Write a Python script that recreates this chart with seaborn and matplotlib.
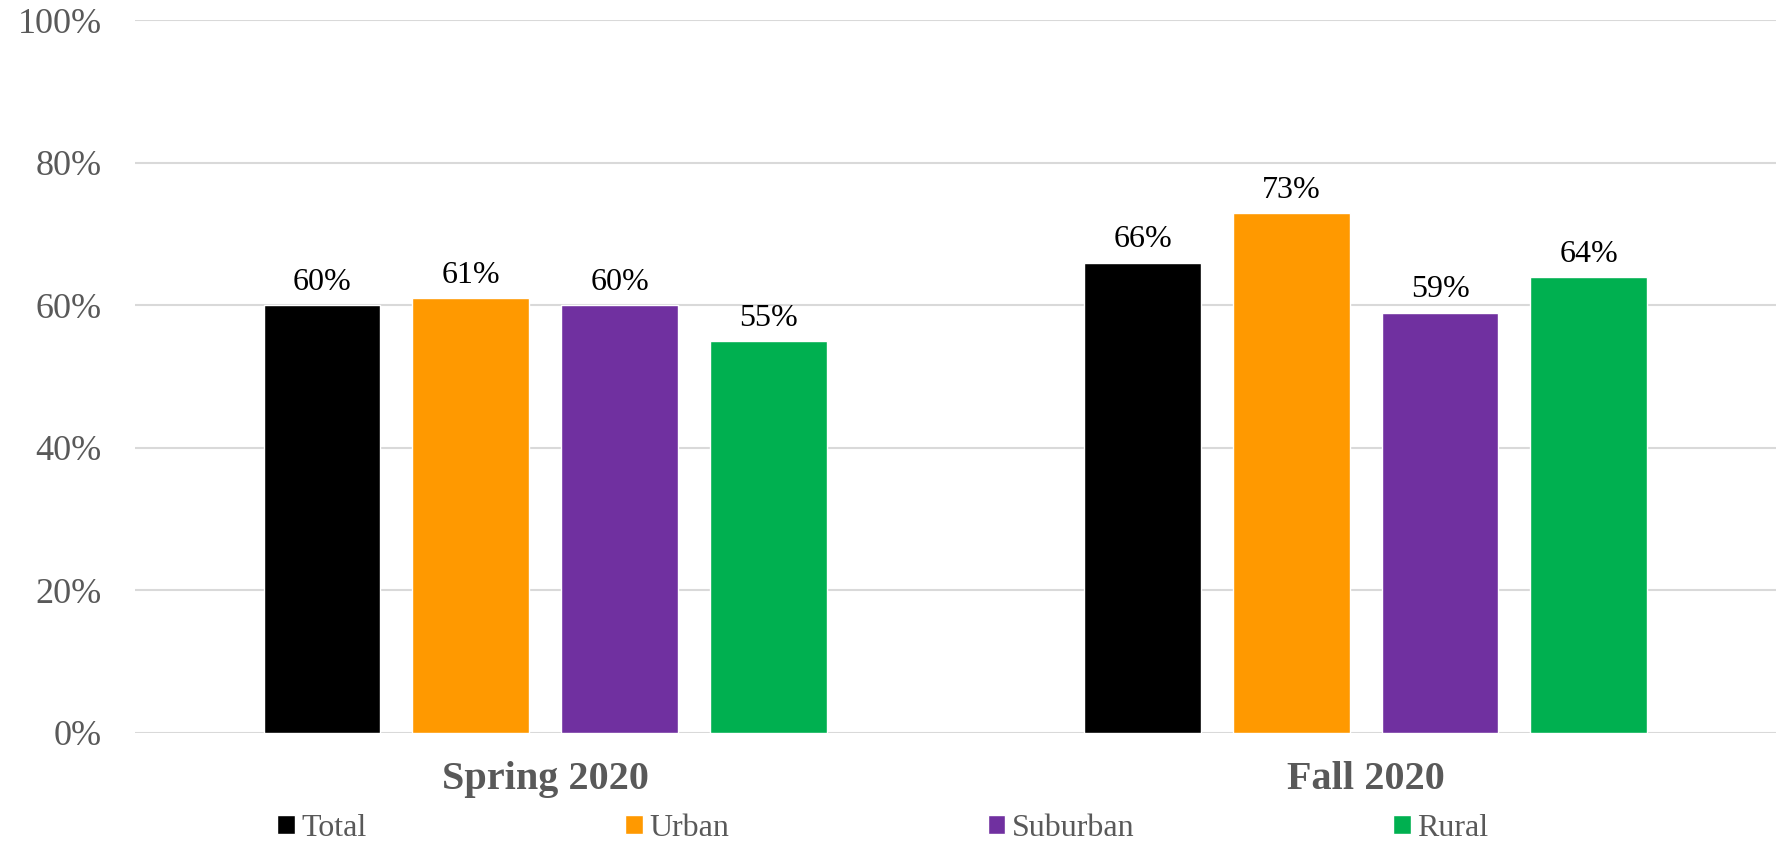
import pandas as pd
import numpy as np
import matplotlib.pyplot as plt
import seaborn as sns

# datos del grafico
periodos = ['Spring 2020', 'Fall 2020']
grupos = ['Total', 'Urban', 'Suburban', 'Rural']
valores_spring = [60, 61, 60, 55]
valores_fall = [66, 73, 59, 64]
colores = ['#000000', '#FF9900', '#7030A0', '#00B050']

df = pd.DataFrame({
    'periodo': np.repeat(periodos, len(grupos)),
    'grupo': grupos * len(periodos),
    'valor': valores_spring + valores_fall,
})

sns.set_style('white')
plt.rcParams['font.family'] = ['Liberation Serif', 'DejaVu Serif']

fig = plt.figure(figsize=(17.87, 8.43), dpi=100)
ax = fig.add_axes([0.0755, 0.1305, 0.9183, 0.8452])

sns.barplot(data=df, x='periodo', y='valor', hue='grupo', order=periodos,
            hue_order=grupos, palette=dict(zip(grupos, colores)),
            width=0.725, gap=0.215, saturation=1, ax=ax)

# etiquetas de datos
for cont in ax.containers:
    ax.bar_label(cont, labels=[f'{v:.0f}%' for v in cont.datavalues],
                 fontsize=23, color='black', padding=6)

ax.set_ylim(0, 100)
ax.set_xlim(-0.5, 1.5)
ax.set_yticks(range(0, 101, 20))
ax.set_yticklabels([f'{v}%' for v in range(0, 101, 20)], fontsize=26, color='#595959')
ax.set_xticks([0, 1])
ax.set_xticklabels(periodos, fontsize=29, fontweight='bold', color='#595959')
ax.tick_params(axis='y', length=0, pad=24)
ax.tick_params(axis='x', length=0, pad=20)
ax.set_xlabel('')
ax.set_ylabel('')
ax.yaxis.grid(True, color='#d9d9d9', linewidth=1.5)
ax.set_axisbelow(True)
for s in ax.spines.values():
    s.set_visible(False)

# leyenda abajo
handles, labels = ax.get_legend_handles_labels()
ax.get_legend().remove()
fig.legend(handles, labels, loc='center', bbox_to_anchor=(0.494, 0.017), ncol=4,
           frameon=False, fontsize=23, labelcolor='#595959', handlelength=0.55,
           handleheight=0.55, handletextpad=0.2, columnspacing=8.1)

fig.savefig('out.png', dpi=100)
